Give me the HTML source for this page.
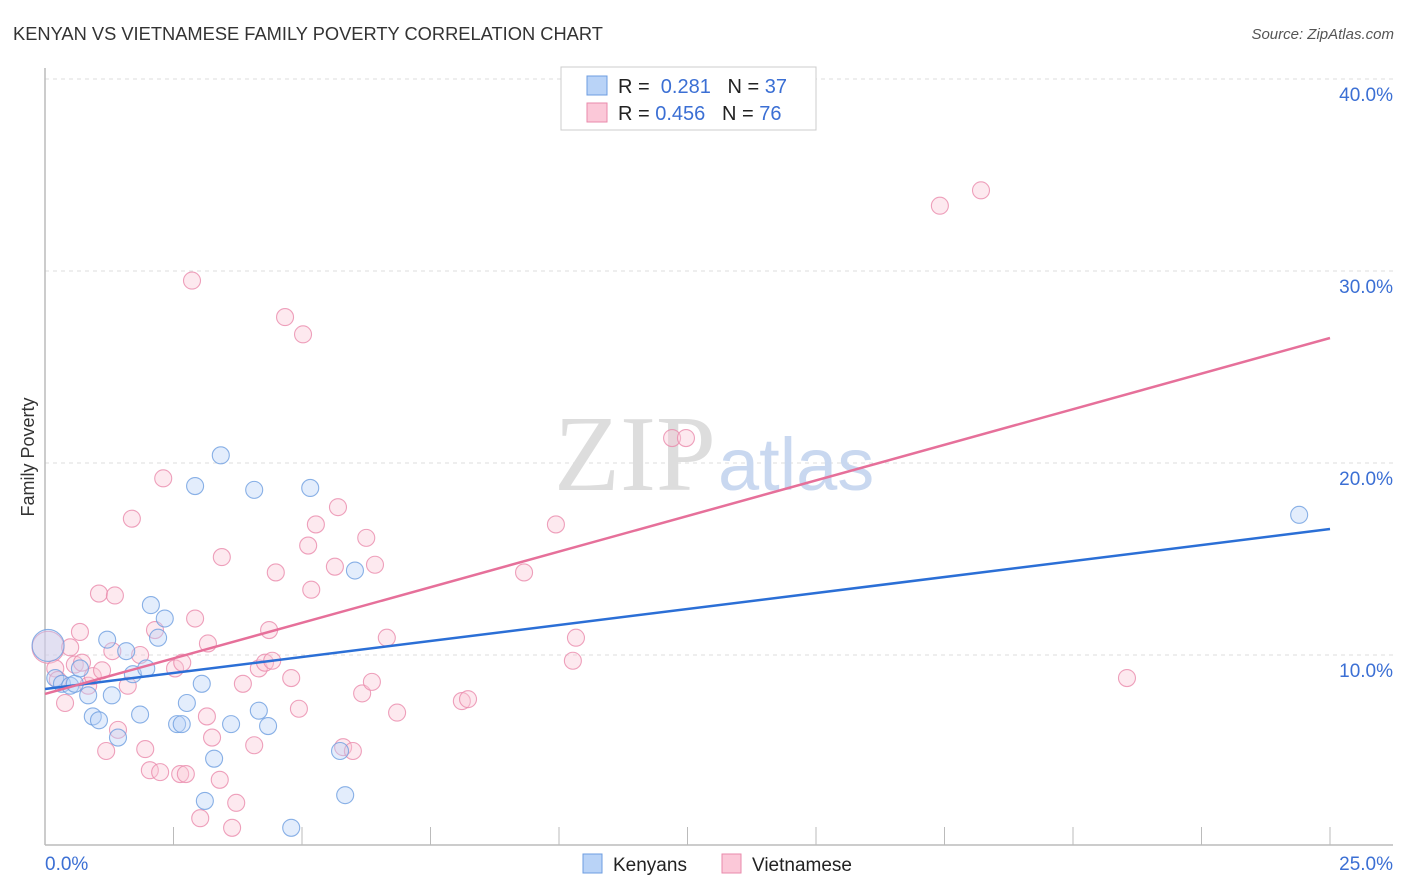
<!DOCTYPE html>
<html><head><meta charset="utf-8"><style>
body{margin:0;background:#fff;font-family:"Liberation Sans",sans-serif;}
</style></head><body>
<svg width="1406" height="892" xmlns="http://www.w3.org/2000/svg" style="display:block">
<text x="13" y="40" font-size="18.3" fill="#333">KENYAN VS VIETNAMESE FAMILY POVERTY CORRELATION CHART</text>
<text x="1394" y="39" font-size="15" fill="#555" font-style="italic" text-anchor="end">Source: ZipAtlas.com</text>
<g id="grid"></g>
<text x="716" y="490" font-size="108" text-anchor="end" fill="#ddd" font-family="Liberation Serif">ZIP</text>
<text x="718" y="490" font-size="74" fill="#c9d8f0">atlas</text>
<text transform="translate(34,457) rotate(-90)" font-size="18" fill="#333" text-anchor="middle">Family Poverty</text>
<g id="pts"></g>
<g id="lines"></g>
<g>
<rect x="561" y="67" width="255" height="63" fill="#fff" stroke="#ccc"/>
<rect x="587" y="76" width="20" height="19" fill="#b9d3f7" stroke="#6d9de0"/>
<rect x="587" y="103" width="20" height="19" fill="#fbc8d8" stroke="#ea8aab"/>
<text x="618" y="93" font-size="20" fill="#222">R = <tspan fill="#3b6fd4">&#160;0.281</tspan>&#160;&#160;&#160;N = <tspan fill="#3b6fd4">37</tspan></text>
<text x="618" y="120" font-size="20" fill="#222">R = <tspan fill="#3b6fd4">0.456</tspan>&#160;&#160;&#160;N = <tspan fill="#3b6fd4">76</tspan></text>
</g>
<g>
<rect x="583" y="854" width="19" height="19" fill="#b9d3f7" stroke="#6d9de0"/>
<text x="613" y="871" font-size="19" fill="#222">Kenyans</text>
<rect x="722" y="854" width="19" height="19" fill="#fbc8d8" stroke="#ea8aab"/>
<text x="752" y="871" font-size="19" fill="#222">Vietnamese</text>
</g>
</svg>
<script>
const xTicks=[0,2.5,5,7.5,10,12.5,15,17.5,20,22.5,25];
const yTicks=[10,20,30,40];
const yTickLabels=["10.0%","20.0%","30.0%","40.0%"];
const xLabels=["0.0%","25.0%"];
const kenX=[0.06,0.2,0.33,0.49,0.58,0.68,0.84,0.93,1.05,1.21,1.3,1.42,1.58,1.71,1.85,1.97,2.06,2.2,2.33,2.57,2.66,2.76,2.92,3.05,3.11,3.29,3.42,3.62,4.07,4.16,4.34,4.79,5.16,5.74,5.84,6.03,24.4];
const kenY=[10.5,8.8,8.5,8.4,8.5,9.3,7.9,6.8,6.6,10.8,7.9,5.7,10.2,9.0,6.9,9.3,12.6,10.9,11.9,6.4,6.4,7.5,18.8,8.5,2.4,4.6,20.4,6.4,18.6,7.1,6.3,1.0,18.7,5.0,2.7,14.4,17.3];
const vieX=[0.06,0.2,0.25,0.39,0.49,0.58,0.68,0.72,0.84,0.93,1.05,1.11,1.19,1.31,1.36,1.42,1.61,1.69,1.85,1.95,2.04,2.14,2.24,2.3,2.53,2.63,2.67,2.74,2.86,2.92,3.02,3.15,3.17,3.25,3.4,3.44,3.64,3.72,3.85,4.07,4.16,4.28,4.36,4.42,4.49,4.67,4.79,4.94,5.02,5.12,5.18,5.27,5.64,5.7,5.8,5.99,6.17,6.25,6.36,6.42,6.65,6.85,8.11,8.23,9.32,9.94,10.27,10.33,12.2,12.47,17.41,18.21,21.05];
const vieY=[10.4,9.3,8.7,7.5,10.4,9.5,11.2,9.6,8.4,8.9,13.2,9.2,5.0,10.2,13.1,6.1,8.4,17.1,10.0,5.1,4.0,11.3,3.9,19.2,9.3,3.8,9.6,3.8,29.5,11.9,1.5,6.8,10.6,5.7,3.5,15.1,1.0,2.3,8.5,5.3,9.3,9.6,11.3,9.7,14.3,27.6,8.8,7.2,26.7,15.7,13.4,16.8,14.6,17.7,5.2,5.0,8.0,16.1,8.6,14.7,10.9,7.0,7.6,7.7,14.3,16.8,9.7,10.9,21.3,21.3,33.4,34.2,8.8];
const trendKen=[8.23,16.56];
const trendVie=[7.97,26.51];
const NS="http://www.w3.org/2000/svg";
const X=v=>45+v*(1285/25);
const Y=v=>847-v*19.2;
function mk(t,a,p){const e=document.createElementNS(NS,t);for(const k in a)e.setAttribute(k,a[k]);p.appendChild(e);return e;}
const g=document.getElementById('grid');
yTicks.forEach((t,i)=>{
 const l=mk('line',{x1:45,x2:1393,y1:Y(t),y2:Y(t),stroke:'#ddd','stroke-dasharray':'4,4'},g);
 
 
 const tx=mk('text',{x:1393,y:Y(t)+22,'font-size':19,fill:'#3b6fd4','text-anchor':'end'},g);
 tx.textContent=yTickLabels[i];
 
 
});
const ax=mk('line',{x1:45,x2:45,y1:68,y2:845,stroke:'#bbb','stroke-width':1.5},g);


const bx=mk('line',{x1:45,x2:1393,y1:845,y2:845,stroke:'#bbb','stroke-width':1.5},g);


xTicks.forEach(t=>{
 const l=mk('line',{x1:X(t),x2:X(t),y1:827,y2:845,stroke:'#bbb'},g);
 
 
});
[[0,'start'],[25,'end']].forEach((p,i)=>{
 const tx=mk('text',{x:i?1393:45,y:870,'font-size':19,fill:'#3b6fd4','text-anchor':p[1]},g);
 tx.textContent=xLabels[i];
 
 
});
const pg=document.getElementById('pts');
function pts(xs,ys,fill,stroke,name){xs.forEach((x,i)=>{
 const c=mk('circle',{cx:X(x),cy:Y(ys[i]),r:(i==0?16:8.5),fill:fill,'fill-opacity':0.4,stroke:stroke,'stroke-opacity':0.8,'stroke-width':1.1},pg);
 
 
});}
pts(vieX,vieY,'#fbc8d8','#ea8aab','vietnamese-point');
pts(kenX,kenY,'#b9d3f7','#6d9de0','kenyan-point');
const lg=document.getElementById('lines');
const l1=mk('line',{x1:X(0),y1:Y(trendKen[0]),x2:X(25),y2:Y(trendKen[1]),stroke:'#2b6fd6','stroke-width':2.5},lg);


const l2=mk('line',{x1:X(0),y1:Y(trendVie[0]),x2:X(25),y2:Y(trendVie[1]),stroke:'#e6709a','stroke-width':2.5},lg);


</script>
</body></html>
